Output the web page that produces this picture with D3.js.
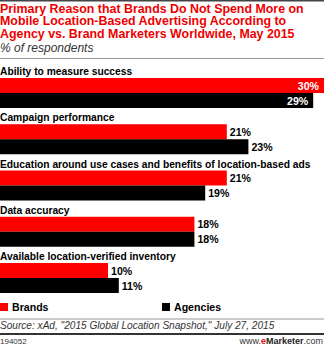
<!DOCTYPE html>
<html><head><meta charset="utf-8">
<script src="https://cdn.jsdelivr.net/npm/d3@7"></script>
<style>
html,body{margin:0;padding:0;background:#fff;}
svg{display:block;font-family:"Liberation Sans",Arial,sans-serif;}
</style></head>
<body>
<script>
const titleLines = ["Primary Reason that Brands Do Not Spend More on","Mobile Location-Based Advertising According to","Agency vs. Brand Marketers Worldwide, May 2015"];
const subtitle = "% of respondents";
const categories = ["Ability to measure success","Campaign performance","Education around use cases and benefits of location-based ads","Data accuracy","Available location-verified inventory"];
const seriesNames = ["Brands","Agencies"];
const brands = [30,21,21,18,10];
const agencies = [29,23,19,18,11];
const source = "Source: xAd, \"2015 Global Location Snapshot,\" July 27, 2015";
const chartId = "194052";

const W=324,H=347;
const colors={Brands:"#ff0000",Agencies:"#000000"};
const svg=d3.select("body").append("svg").attr("width",W).attr("height",H);

svg.append("rect").attr("x",0).attr("y",0).attr("width",W).attr("height",1.5).attr("fill","#444");
const tt=svg.append("text").attr("fill","#ee0000").attr("font-weight","bold").attr("font-size",12.4);
titleLines.forEach((l,i)=>tt.append("tspan").attr("x",0).attr("y",12.5+i*12.8).text(l));
svg.append("text").attr("x",0).attr("y",52).attr("font-style","italic").attr("font-size",12).attr("fill","#333").text(subtitle);
svg.append("rect").attr("x",0).attr("y",58).attr("width",W).attr("height",1).attr("fill","#999");

const x=d3.scaleLinear().domain([0,30]).range([0,W]);
const y=d3.scaleBand().domain(categories).range([78,78+5*46.25]);
const ys=d3.scaleBand().domain(seriesNames).range([0,30]);

const data=categories.map((c,i)=>({cat:c,vals:[{s:"Brands",v:brands[i]},{s:"Agencies",v:agencies[i]}]}));
const g=svg.selectAll("g.grp").data(data).enter().append("g").attr("transform",d=>`translate(0,${y(d.cat)})`);
g.append("text").attr("x",0).attr("y",-3).attr("font-weight","bold").attr("font-size",10.25).attr("fill","#000").text(d=>d.cat);
const b=g.selectAll("g.b").data(d=>d.vals).enter().append("g");
b.append("rect").attr("x",0).attr("y",d=>ys(d.s)).attr("width",d=>x(d.v)).attr("height",ys.bandwidth()).attr("fill",d=>colors[d.s]);
b.append("text").attr("font-weight","bold").attr("font-size",10.6)
 .attr("y",d=>ys(d.s)+ys.bandwidth()/2+4)
 .attr("x",d=>x(d.v)>W-30?x(d.v)-5:x(d.v)+3)
 .attr("text-anchor",d=>x(d.v)>W-30?"end":"start")
 .attr("fill",d=>x(d.v)>W-30?"#fff":"#000")
 .text(d=>d.v+"%");

const lg=svg.selectAll("g.lg").data(seriesNames).enter().append("g").attr("transform",(d,i)=>`translate(${i*162},0)`);
lg.append("rect").attr("x",0).attr("y",303).attr("width",8).attr("height",8).attr("fill",d=>colors[d]);
lg.append("text").attr("x",12).attr("y",311).attr("font-weight","bold").attr("font-size",10.6).text(d=>d);

svg.append("rect").attr("x",0).attr("y",318.5).attr("width",W).attr("height",1).attr("fill","#999");
svg.append("text").attr("x",0).attr("y",329).attr("font-style","italic").attr("font-size",10.1).attr("fill","#333").text(source);
svg.append("rect").attr("x",0).attr("y",333).attr("width",W).attr("height",2).attr("fill","#333");
svg.append("text").attr("x",0).attr("y",344).attr("font-size",8).attr("fill","#333").text(chartId);
const em=svg.append("text").attr("x",W-1).attr("y",344).attr("text-anchor","end").attr("font-size",9).attr("fill","#333");
em.append("tspan").text("www.");
em.append("tspan").attr("fill","#ee0000").attr("font-weight","bold").text("e");
em.append("tspan").attr("font-weight","bold").attr("fill","#222").text("Marketer");
em.append("tspan").text(".com");
</script>
</body></html>
